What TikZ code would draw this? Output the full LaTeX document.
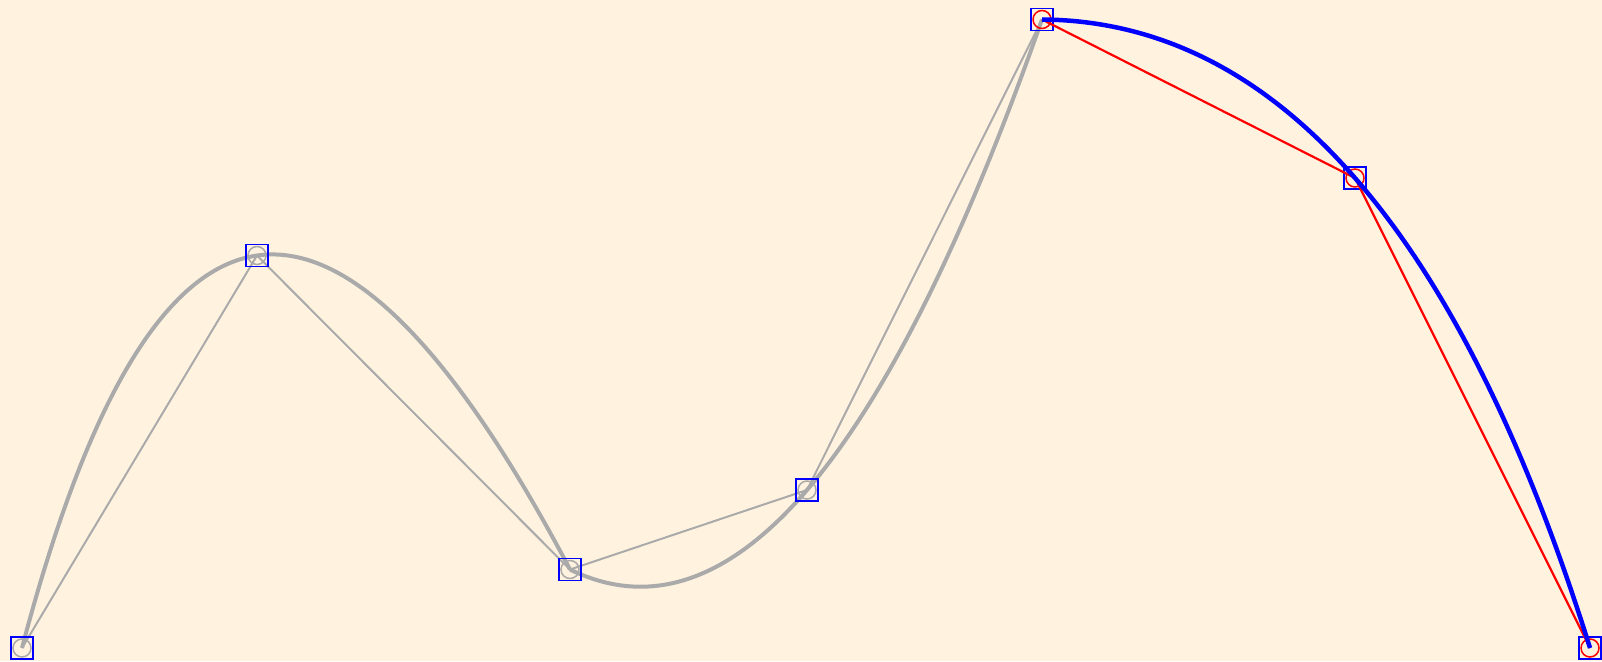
\documentclass[tikz,border=0pt]{standalone}
\usetikzlibrary{calc}
\definecolor{bg}{HTML}{FFF3E0}
\definecolor{lgray}{HTML}{AAAAAA}
\tikzset{
  pt/.style={draw=blue, line width=1.3pt, rectangle, minimum size=22pt, inner sep=0pt},
  polyg/.style={lgray, line width=2pt},
  curveg/.style={lgray, line width=4pt},
  polyr/.style={red, line width=2.2pt},
  curveb/.style={blue, line width=4.5pt},
  ringg/.style={lgray, line width=1.5pt},
  ringr/.style={red, line width=1.5pt}
}
\begin{document}
\begin{tikzpicture}[x=1pt,y=-1pt]
\fill[bg] (0,0) rectangle (1602,661);
\useasboundingbox (0,0) rectangle (1602,661);
\coordinate (p0) at (22,648);
\coordinate (p1) at (257,255.5);
\coordinate (p2) at (570,569.5);
\coordinate (p3) at (807,490);
\coordinate (p4) at (1042,19.5);
\coordinate (p5) at (1355,178);
\coordinate (p6) at (1590,648);
% quadratic control points (curve passes through middle point at t=1/2)
\coordinate (q1) at ($2*(p1)-0.5*(p0)-0.5*(p2)$);
\coordinate (q2) at ($2*(p3)-0.5*(p2)-0.5*(p4)$);
\coordinate (q3) at ($2*(p5)-0.5*(p4)-0.5*(p6)$);
% gray control polygon
\draw[polyg] (p0) -- (p1) -- (p2) -- (p3) -- (p4);
% gray curves
\draw[curveg] (p0) .. controls ($(p0)!2/3!(q1)$) and ($(p2)!2/3!(q1)$) .. (p2);
\draw[curveg] (p2) .. controls ($(p2)!2/3!(q2)$) and ($(p4)!2/3!(q2)$) .. (p4);
% gray rings
\foreach \p in {p0,p1,p2,p3} \draw[ringg] (\p) circle (9);
% squares
\foreach \p in {0,...,6} \node[pt] (n\p) at (p\p) {};
% red polygon and rings
\draw[polyr] (n4.center) -- (n5.center) -- (n6.center);
\foreach \p in {p4,p5,p6} \draw[ringr] (\p) circle (9);
% blue curve
\draw[curveb] (n4.center) .. controls ($(p4)!2/3!(q3)$) and ($(p6)!2/3!(q3)$) .. (n6.center);
\end{tikzpicture}
\end{document}
